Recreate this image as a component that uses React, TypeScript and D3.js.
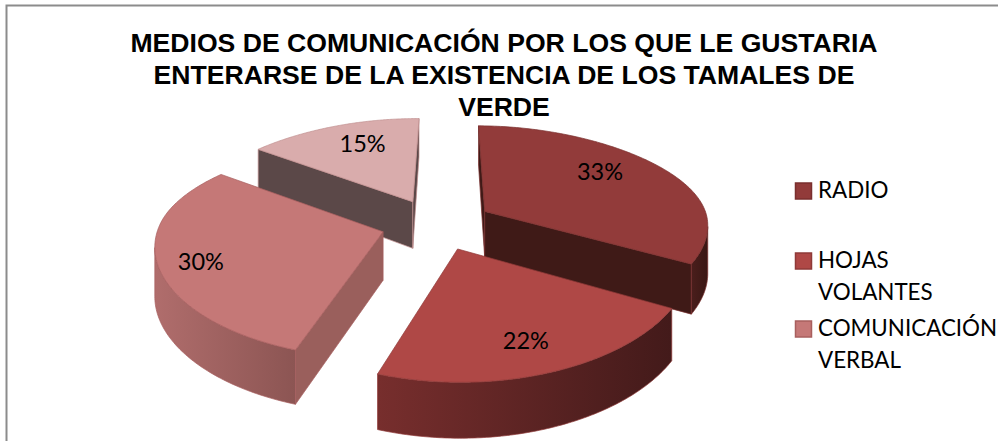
import React from "react";
import * as d3 from "d3";

// Share of respondents per communication channel, in percent.
// The fourth wedge has no entry in the legend.
const shares = [33, 22, 30, 15];
const legendLines = [["RADIO"], ["HOJAS", "VOLANTES"], ["COMUNICACIÓN", "VERBAL"]];
const titleLines = [
  "MEDIOS DE COMUNICACIÓN POR LOS QUE LE GUSTARIA",
  "ENTERARSE DE LA EXISTENCIA DE LOS TAMALES DE",
  "VERDE",
];

const topFill = ["#923b3a", "#af4846", "#c57877", "#d9acac"];
const edgeStroke = ["#7a2f2e", "#8f3a38", "#a85f5e", "#c08f8f"];
const cutFill = ["#3f1a17", "#461b1b", "#9a5f5c", "#5b4848"];
const rimFrom = ["#4a1e1c", "#772e2d", "#b06d6c", "#8f6a6a"];
const rimTo = ["#3a1714", "#431a1a", "#8c5553", "#5b4848"];

// Label placement inside each wedge: radial distance and turn from the mid angle.
const labelRadius = [0.72, 0.77, 0.82, 0.72];
const labelTurnDeg = [-7, 1, -2, 4];

// Perspective projection of the unit-radius pie plane onto the page.
const CX = 437;
const CY = 224;
const AX = 224;
const BY = 103;
const PERSP_Y = 0.16;
const DEPTH = 48;
const EXPLODE = 0.25;
const ROTATION = (0.6 * Math.PI) / 180;

type P = [number, number];
const project = (u: number, v: number, down = false): P => {
  // The far half of the plane narrows faster than the near half widens.
  const wx = 1 - 0.115 * v + (v < 0 ? 0.075 * v * v : 0);
  const wy = 1 - PERSP_Y * v;
  return [CX + (AX * u) / wx, CY + (BY * v) / wy + (down ? DEPTH / wx : 0)];
};

const arcs = d3
  .pie<number>()
  .sort(null)
  .startAngle(ROTATION)
  .endAngle(2 * Math.PI + ROTATION)(shares);

const line = d3.line<P>();
const closed = (pts: P[]) => (line(pts) ?? "") + "Z";

export default function App() {
  const slices = arcs.map((a, i) => {
    const mid = (a.startAngle + a.endAngle) / 2;
    const c0: P = [EXPLODE * Math.sin(mid), -EXPLODE * Math.cos(mid)];
    const thetas = d3.range(0, 121).map((k) => a.startAngle + ((a.endAngle - a.startAngle) * k) / 120);
    const rim = thetas.map((t): P => [c0[0] + Math.sin(t), c0[1] - Math.cos(t)]);
    const top = rim.map(([u, v]) => project(u, v));
    const bottom = rim.map(([u, v]) => project(u, v, true));
    const apex = project(c0[0], c0[1]);
    const apexB = project(c0[0], c0[1], true);

    // A wall faces the viewer when its top edge runs leftwards along the clockwise outline.
    const frontIdx = d3.range(0, 121).filter((k) => {
      const next = top[Math.min(k + 1, 120)];
      const prev = top[Math.max(k - 1, 0)];
      return next[0] < prev[0];
    });
    const rimTop = frontIdx.map((k) => top[k]);
    const rimBottom = frontIdx.map((k) => bottom[k]).reverse();

    const la = mid + (labelTurnDeg[i] * Math.PI) / 180;
    const labelAt = project(
      c0[0] + labelRadius[i] * Math.sin(la),
      c0[1] - labelRadius[i] * Math.cos(la)
    );
    return {
      i,
      top: closed([apex, ...top]),
      wall: rimTop.length > 1 ? closed([...rimTop, ...rimBottom]) : null,
      cutA: top[0][0] < apex[0] ? closed([apex, top[0], bottom[0], apexB]) : null,
      cutB: apex[0] < top[120][0] ? closed([apex, top[120], bottom[120], apexB]) : null,
      labelAt,
    };
  });

  // Back-to-front paint order so nearer wedges hide the walls behind them.
  const paintOrder = [3, 0, 2, 1];

  return (
    <svg
      width={998}
      height={441}
      style={{ position: "absolute", left: 0, top: 0, background: "#fff" }}
    >
      <defs>
        {shares.map((_, i) => (
          <linearGradient key={i} id={`rim${i}`} x1="0" x2="1" y1="0" y2="0">
            <stop offset="0" stopColor={rimFrom[i]} />
            <stop offset="1" stopColor={rimTo[i]} />
          </linearGradient>
        ))}
      </defs>

      <rect x={6.5} y={5.5} width={1000} height={445} fill="none" stroke="#8c8c8c" strokeWidth={2} />

      <g
        fontFamily="'Liberation Sans', Arial, sans-serif"
        fontWeight={700}
        fontSize={26.6}
        textAnchor="middle"
        fill="#000"
      >
        {titleLines.map((t, k) => (
          <text key={t} x={504} y={52 + k * 32}>
            {t}
          </text>
        ))}
      </g>

      {paintOrder.map((i) => {
        const s = slices[i];
        return (
          <g key={i} stroke={edgeStroke[i]} strokeWidth={0.7} strokeLinejoin="round">
            {s.cutA && <path d={s.cutA} fill={cutFill[i]} />}
            {s.cutB && <path d={s.cutB} fill={cutFill[i]} />}
            {s.wall && <path d={s.wall} fill={`url(#rim${i})`} />}
            <path d={s.top} fill={topFill[i]} />
          </g>
        );
      })}

      <g fontFamily="Lato, sans-serif" fontSize={23.5} textAnchor="middle" fill="#000">
        {slices.map((s) => (
          <text key={s.i} x={s.labelAt[0]} y={s.labelAt[1]} dy="0.36em">
            {shares[s.i]}%
          </text>
        ))}
      </g>

      <g fontFamily="Lato, sans-serif" fontSize={22.4} fill="#000">
        {legendLines.map((lines, r) => {
          const firstBaseline = [198, 268, 336][r];
          return (
            <g key={r}>
              <rect
                x={795.5}
                y={firstBaseline - 15}
                width={16}
                height={16}
                fill={topFill[r]}
                stroke={edgeStroke[r]}
                strokeWidth={1.5}
              />
              {lines.map((l, k) => (
                <text key={l} x={818} y={firstBaseline + k * 32}>
                  {l}
                </text>
              ))}
            </g>
          );
        })}
      </g>
    </svg>
  );
}
